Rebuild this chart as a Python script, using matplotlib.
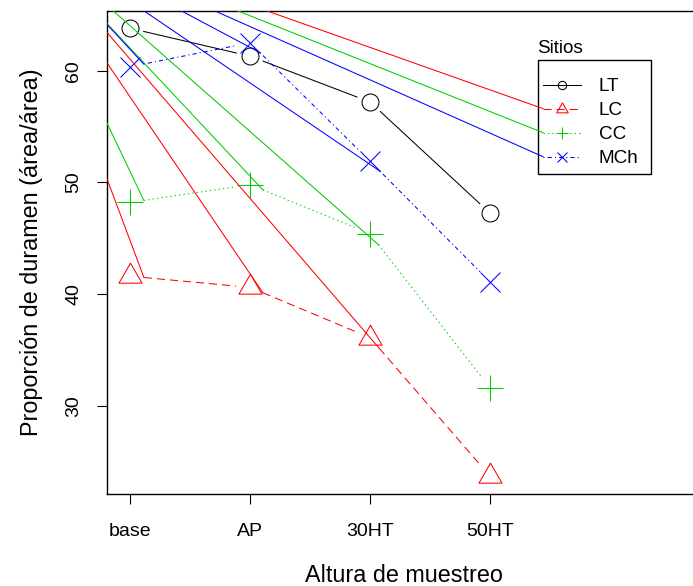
import numpy as np
import matplotlib
matplotlib.use('Agg')
import matplotlib.pyplot as plt
from matplotlib.path import Path
from matplotlib.lines import Line2D
from matplotlib.patches import Rectangle

plt.rcParams['font.family'] = ['Liberation Sans', 'DejaVu Sans']
plt.rcParams['lines.scale_dashes'] = False

# ---------------- data ----------------
heights = ['base', 'AP', '30HT', '50HT']
sites = ['LT', 'LC', 'CC', 'MCh']
prop_LT = [63.8, 61.3, 57.2, 47.25]
prop_LC = [41.6, 40.6, 36.1, 23.7]
prop_CC = [48.2, 49.8, 45.4, 31.6]
prop_MCh = [60.35, 62.5, 51.9, 41.1]
# stray connector lines of the original graphics device start from this point (data units)
stray_origin = (0.0, 73.5)
stray_sites = ['LC', 'CC', 'MCh']

series = {'LT': prop_LT, 'LC': prop_LC, 'CC': prop_CC, 'MCh': prop_MCh}
colors = {'LT': 'black', 'LC': '#FF0000', 'CC': '#00CD00', 'MCh': '#0000FF'}
styles = {'LT': '-', 'LC': (0, (5.8, 3.6)), 'CC': (0, (1.0, 2.2)),
          'MCh': (0, (0.8, 2.2, 3.0, 2.2))}
tri = Path([(0, 1), (-0.866, -0.5), (0.866, -0.5), (0, 1)],
           [Path.MOVETO, Path.LINETO, Path.LINETO, Path.CLOSEPOLY])
markers = {'LT': 'o', 'LC': tri, 'CC': '+', 'MCh': 'x'}
msize = {'LT': 12.2, 'LC': 19.2, 'CC': 18.5, 'MCh': 14.4}
leg_msize = {'LT': 6.0, 'LC': 9.6, 'CC': 9.0, 'MCh': 7.2}

W, H = 693, 586
fig = plt.figure(figsize=(W / 100, H / 100), dpi=100)
ax = fig.add_axes([107 / W, (H - 494) / H, (700 - 107) / W, (494 - 11) / H])
ax.set_xlim(0.8083, 5.75)
ax.set_ylim(22.10, 65.345)

x = np.arange(1, len(heights) + 1)
lw = 0.75
gap_px = 14.0
toD = ax.transData
inv = toD.inverted()
seg_starts = {}
for s in sites:
    pts = toD.transform(np.column_stack([x, series[s]]))
    starts = []
    for i in range(len(pts) - 1):
        p0, p1 = pts[i], pts[i + 1]
        d = p1 - p0
        u = d / np.hypot(*d)
        a, b = inv.transform([p0 + u * gap_px, p1 - u * gap_px])
        ax.plot([a[0], b[0]], [a[1], b[1]], color=colors[s], linestyle=styles[s], lw=lw)
        starts.append(a)
    seg_starts[s] = starts
    ax.plot(x, series[s], linestyle='none', marker=markers[s], ms=msize[s],
            mfc='none', mec=colors[s], mew=lw)

ax.set_xticks(x)
ax.set_xticklabels(heights)
ax.set_yticks([30, 40, 50, 60])
ax.tick_params(axis='both', direction='out', length=7.2, width=0.8, labelsize=14)
ax.tick_params(axis='x', pad=13.5)
ax.tick_params(axis='y', labelrotation=90, pad=10.5)
for t in ax.get_yticklabels():
    t.set_va('center')
for sp in ax.spines.values():
    sp.set_linewidth(1.0)
ax.spines['right'].set_visible(False)

ax.set_xlabel('Altura de muestreo', fontsize=16.8, labelpad=17.5)
ax.set_ylabel('Proporción de duramen (área/área)', fontsize=16.8, labelpad=16)

# legend (R style: title above a box)
ax_w, ax_h = 700 - 107, 494 - 11
def axx(px):
    return (px - 107) / ax_w
def axy(py):
    return (494 - py) / ax_h

handles = [Line2D([], [], color=colors[s], linestyle=styles[s], lw=lw, marker=markers[s],
                  ms=leg_msize[s], mfc='none', mec=colors[s], mew=lw) for s in sites]
leg = ax.legend(handles, sites, loc='upper left', bbox_to_anchor=(axx(543), axy(78)),
                bbox_transform=ax.transAxes, frameon=False, borderpad=0, borderaxespad=0,
                fontsize=13.6, handlelength=1.99, handletextpad=0.95, labelspacing=0.36,
                numpoints=1)
ax.add_patch(Rectangle((axx(537.7), axy(174)), axx(650.7) - axx(537.7), axy(60) - axy(174),
                       transform=ax.transAxes, fill=False, ec='black', lw=1.0, zorder=5,
                       clip_on=False))
ax.text(axx(537), axy(53), 'Sitios', transform=ax.transAxes, fontsize=13.6,
        ha='left', va='baseline')

# stray connector lines
fig.canvas.draw()
leg_start = {}
for s, h in zip(sites, leg.legend_handles):
    disp = h.get_transform().transform(h.get_xydata())
    leg_start[s] = inv.transform(disp[0])
for s in stray_sites:
    for end in seg_starts[s] + [leg_start[s]]:
        ax.plot([stray_origin[0], end[0]], [stray_origin[1], end[1]], color=colors[s],
                lw=lw, zorder=6)

fig.savefig('out.png', dpi=100)
